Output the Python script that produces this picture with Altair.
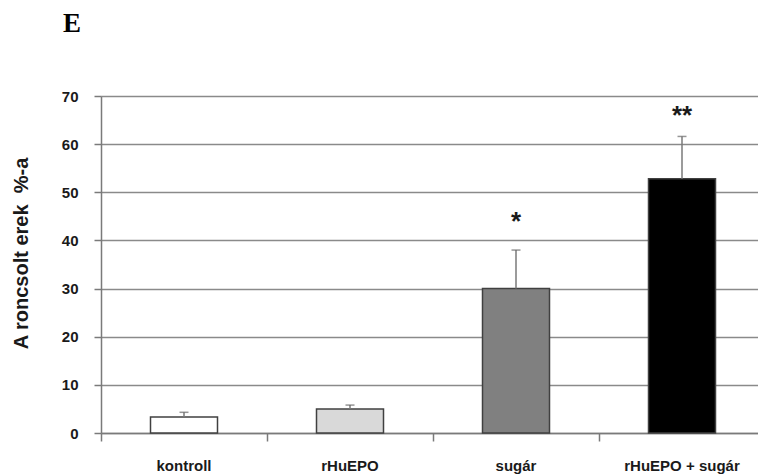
import altair as alt
import pandas as pd

# Percentage of damaged vessels per treatment group (mean + upward SD)
groups = ["kontroll", "rHuEPO", "sugár", "rHuEPO + sugár"]
means = [3.3, 5.0, 30.0, 52.8]
errors = [1.0, 0.8, 8.0, 8.8]
stars = ["", "", "*", "**"]
star_levels = [None, None, 42.2, 64.2]
fills = ["#ffffff", "#d9d9d9", "#808080", "#000000"]

df = pd.DataFrame({
    "group": groups,
    "mean": means,
    "upper": [m + e for m, e in zip(means, errors)],
    "star": stars,
    "star_y": star_levels,
    "fill": fills,
})

x_enc = alt.X(
    "group:N",
    sort=groups,
    title=None,
    scale=alt.Scale(paddingInner=0, paddingOuter=0),
    axis=alt.Axis(
        bandPosition=0,
        labelAngle=0,
        labelFont="Liberation Sans",
        labelFontSize=15,
        labelFontWeight="bold",
        labelColor="#1a1a1a",
        labelPadding=17,
        tickSize=8,
        tickColor="#7a7a7a",
        tickWidth=1.5,
        domainColor="#7a7a7a",
        domainWidth=1.5,
        grid=False,
    ),
)

y_scale = alt.Scale(domain=[0, 70], nice=False)

bars = alt.Chart(df).mark_bar(size=67, stroke="#404040", strokeWidth=1.5).encode(
    x=x_enc,
    y=alt.Y(
        "mean:Q",
        scale=y_scale,
        title="A roncsolt erek\u00a0 %-a",
        axis=alt.Axis(
            values=[0, 10, 20, 30, 40, 50, 60, 70],
            grid=True,
            gridColor="#8a8a8a",
            gridWidth=1.5,
            domainColor="#7a7a7a",
            domainWidth=1.5,
            tickColor="#7a7a7a",
            tickWidth=1.5,
            tickSize=7,
            labelFont="Liberation Sans",
            labelFontSize=15,
            labelFontWeight="bold",
            labelColor="#1a1a1a",
            labelPadding=16,
            titleFont="Liberation Sans",
            titleFontSize=20,
            titleFontWeight="bold",
            titleColor="#1a1a1a",
            titleAngle=270,
            titleAlign="center",
            titleBaseline="alphabetic",
            titleX=-74,
            titleY=157,
        ),
    ),
    color=alt.Color("fill:N", scale=None),
)

err = alt.Chart(df).mark_rule(color="#7a7a7a", strokeWidth=1.5).encode(
    x=alt.X("group:N", sort=groups),
    y=alt.Y("mean:Q", scale=y_scale),
    y2="upper:Q",
)

caps = alt.Chart(df).mark_tick(color="#6a6a6a", size=9, thickness=1.5).encode(
    x=alt.X("group:N", sort=groups),
    y=alt.Y("upper:Q", scale=y_scale),
)

marks = alt.Chart(df).mark_text(
    font="Liberation Sans", fontSize=26, fontWeight="bold", color="#1a1a1a",
    baseline="alphabetic",
).encode(
    x=alt.X("group:N", sort=groups),
    y=alt.Y("star_y:Q", scale=y_scale),
    text="star:N",
)

chart = (
    alt.layer(bars, err, caps, marks)
    .properties(
        width=664,
        height=337,
        padding={"left": 101, "top": 96, "right": -7, "bottom": 42},
        autosize=alt.AutoSizeParams(type="none"),
        title=alt.TitleParams(
            "E",
            font="Liberation Serif",
            fontSize=27,
            fontWeight="bold",
            color="#000000",
            anchor="start",
            frame="group",
            dx=-38,
            offset=51,
        ),
    )
    .configure_view(stroke=None)
    .configure(background="#ffffff")
)

chart.save("out.html", embed_options={"renderer": "svg", "actions": False})
